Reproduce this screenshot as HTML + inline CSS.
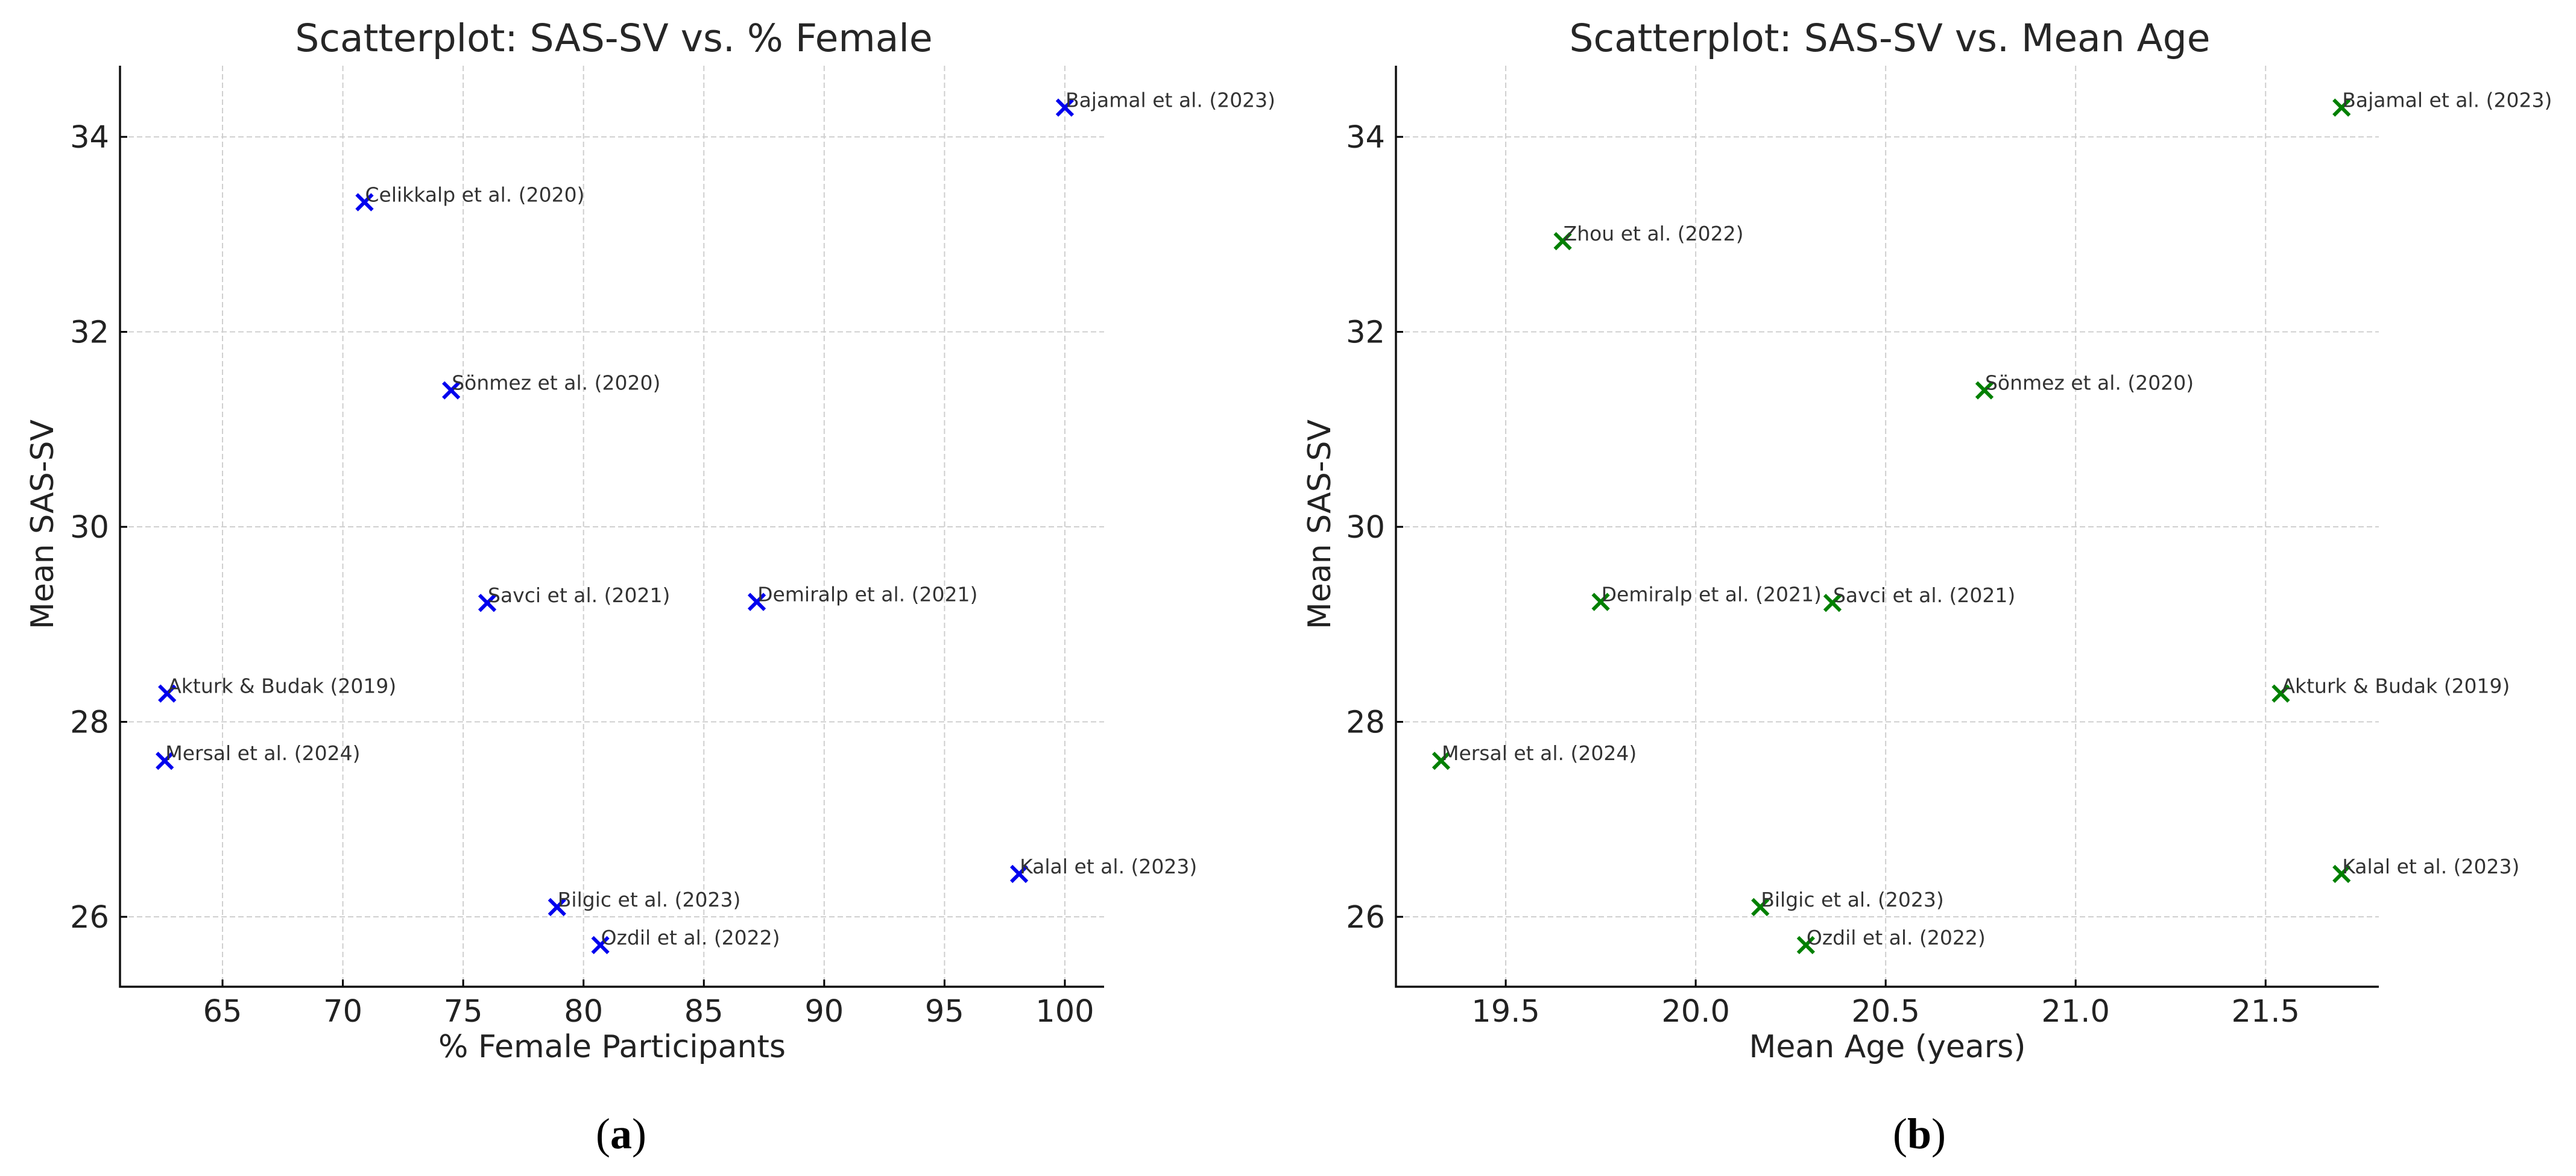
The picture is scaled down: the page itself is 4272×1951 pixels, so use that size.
<!DOCTYPE html>
<html><head><meta charset="utf-8"><style>
html,body{margin:0;padding:0;background:#fff}
svg{display:block}
text{font-family:"DejaVu Sans","Liberation Sans",sans-serif}
</style></head><body>
<svg id="fig" width="4272" height="1951" viewBox="0 0 4272 1951" xmlns="http://www.w3.org/2000/svg"></svg>
<script>
const labels = ["Bajamal et al. (2023)","Celikkalp et al. (2020)","Sönmez et al. (2020)","Savci et al. (2021)","Demiralp et al. (2021)","Akturk & Budak (2019)","Mersal et al. (2024)","Kalal et al. (2023)","Bilgic et al. (2023)","Ozdil et al. (2022)"];
const femalePct = [100, 70.9, 74.5, 76.0, 87.2, 62.7, 62.6, 98.1, 78.9, 80.7];
const sasA = [34.3, 33.33, 31.4, 29.22, 29.23, 28.29, 27.6, 26.44, 26.1, 25.71];
const labelsB = ["Bajamal et al. (2023)","Zhou et al. (2022)","Sönmez et al. (2020)","Demiralp et al. (2021)","Savci et al. (2021)","Akturk & Budak (2019)","Mersal et al. (2024)","Kalal et al. (2023)","Bilgic et al. (2023)","Ozdil et al. (2022)"];
const meanAge = [21.7, 19.65, 20.76, 19.75, 20.36, 21.54, 19.33, 21.7, 20.17, 20.29];
const sasB = [34.3, 32.93, 31.4, 29.23, 29.22, 28.29, 27.6, 26.44, 26.1, 25.71];
const xTicksA = [65,70,75,80,85,90,95,100];
const xTickLabelsA = ["65","70","75","80","85","90","95","100"];
const xTicksB = [19.5,20.0,20.5,21.0,21.5];
const xTickLabelsB = ["19.5","20.0","20.5","21.0","21.5"];
const yTicks = [26,28,30,32,34];
const yTickLabels = ["26","28","30","32","34"];

const NS="http://www.w3.org/2000/svg";
const svg=document.getElementById('fig');
function mk(tag,attrs,parent){const e=document.createElementNS(NS,tag);for(const k in attrs)e.setAttribute(k,attrs[k]);(parent||svg).appendChild(e);return e;}

function panel(cfg){
  const g=mk('g',{});
  
  
  const {L,R,T,B,xmin,xmax,ymin,ymax}=cfg;
  const sx=v=>L+(v-xmin)/(xmax-xmin)*(R-L);
  const sy=v=>B-(v-ymin)/(ymax-ymin)*(B-T);
  cfg.xticks.forEach((v,i)=>{
    const l=mk('line',{x1:sx(v),x2:sx(v),y1:T,y2:B,stroke:'#cfcfcf','stroke-width':2,'stroke-dasharray':'9,5'},g);
    
    
    const tk=mk('line',{x1:sx(v),x2:sx(v),y1:B,y2:B-12,stroke:'#000','stroke-width':3},g);
    
    
    const t=mk('text',{x:sx(v),y:1695,'font-size':51,'text-anchor':'middle',fill:'#222'},g);
    t.textContent=cfg.xlabels[i];
    
    
  });
  yTicks.forEach((v,i)=>{
    const l=mk('line',{x1:L,x2:R,y1:sy(v),y2:sy(v),stroke:'#cfcfcf','stroke-width':2,'stroke-dasharray':'9,5'},g);
    
    
    const tk=mk('line',{x1:L,x2:L+12,y1:sy(v),y2:sy(v),stroke:'#000','stroke-width':3},g);
    
    
    const t=mk('text',{x:L-18,y:sy(v)+18,'font-size':51,'text-anchor':'end',fill:'#222'},g);
    t.textContent=yTickLabels[i];
    
    
  });
  const ax=mk('path',{d:`M${L},${T} L${L},${B} L${R},${B}`,fill:'none',stroke:'#111','stroke-width':3.5},g);
  
  
  cfg.xs.forEach((xv,i)=>{
    const x=sx(xv),y=sy(cfg.ys[i]),s=13;
    const m=mk('path',{d:`M${x-s},${y-s} L${x+s},${y+s} M${x-s},${y+s} L${x+s},${y-s}`,stroke:cfg.color,'stroke-width':6,fill:'none'},g);
    
    
    const t=mk('text',{x:x+1,y:y-1,'font-size':33,fill:'#333'},g);
    t.textContent=cfg.labels[i];
    
    
  });
  const ti=mk('text',{x:cfg.tx,y:85,'font-size':63,'text-anchor':'middle',fill:'#262626'},g);
  ti.textContent=cfg.title;
  
  
  const xl=mk('text',{x:(L+R)/2,y:1754,'font-size':52,'text-anchor':'middle',fill:'#222'},g);
  xl.textContent=cfg.xtitle;
  
  
  const yl=mk('text',{x:0,y:0,'font-size':52,'text-anchor':'middle',fill:'#222',transform:`translate(${cfg.ylx},870) rotate(-90)`},g);
  yl.textContent='Mean SAS-SV';
  
  
  const cap=mk('text',{x:cfg.capx,y:1905,'font-size':72,'text-anchor':'middle',fill:'#000',style:'font-family:"Liberation Serif",serif'},g);
  cap.innerHTML='(<tspan font-weight="bold">'+cfg.cap+'</tspan>)';
  
  
}

panel({name:'scatter-female',L:199,R:1831,T:109,B:1637,xmin:60.74,xmax:101.63,ymin:25.283,ymax:34.73,
  xticks:xTicksA,xlabels:xTickLabelsA,xs:femalePct,ys:sasA,labels:labels,color:'#0000ee',
  title:'Scatterplot: SAS-SV vs. % Female',tx:1018,xtitle:'% Female Participants',ylx:88,capx:1030,cap:'a'});
panel({name:'scatter-age',L:2315,R:3945,T:109,B:1637,xmin:19.211,xmax:21.798,ymin:25.283,ymax:34.73,
  xticks:xTicksB,xlabels:xTickLabelsB,xs:meanAge,ys:sasB,labels:labelsB,color:'#008000',
  title:'Scatterplot: SAS-SV vs. Mean Age',tx:3134,xtitle:'Mean Age (years)',ylx:2206,capx:3183,cap:'b'});
</script>
</body></html>
